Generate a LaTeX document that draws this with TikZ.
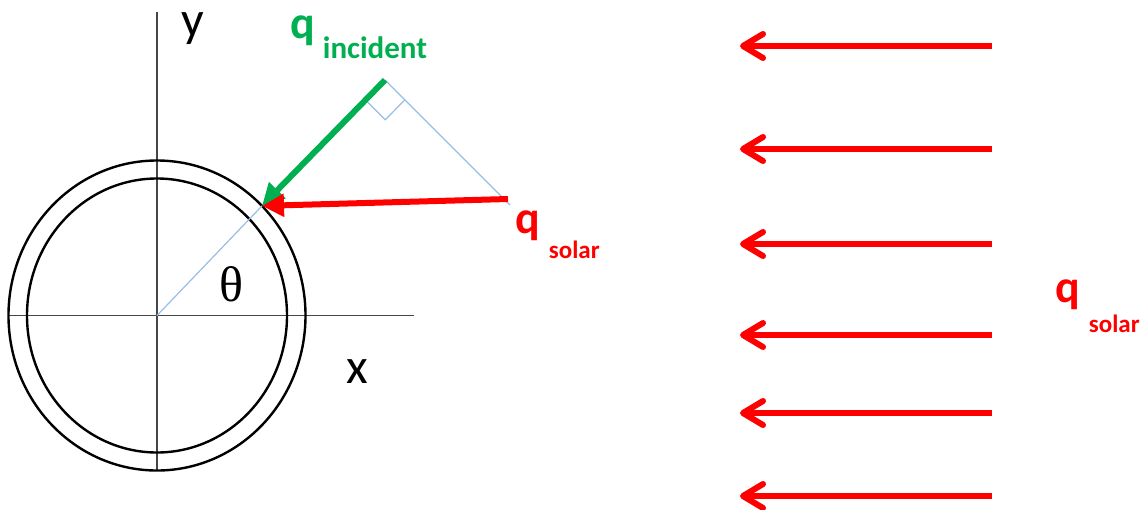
\documentclass[tikz,border=0pt]{standalone}
\usepackage{fontspec}
\usepackage{tikz}
\usetikzlibrary{arrows.meta,positioning,calc}
\newfontfamily\carlito{Carlito}
\newfontfamily\serifgr{Liberation Serif}
\definecolor{suncol}{RGB}{255,0,0}
\definecolor{inccol}{RGB}{0,176,80}
\definecolor{guidecol}{RGB}{150,190,230}
\definecolor{axiscol}{RGB}{70,70,70}

\begin{document}
\begin{tikzpicture}[x=0.5pt,y=-0.5pt,
  axis/.style={axiscol,line width=0.8pt},
  ring/.style={black,line width=1.2pt},
  guide/.style={guidecol,line width=0.6pt},
  fluxarrow/.style={line width=3pt,-{Triangle[length=11pt,width=11pt]}},
  sunray/.style={suncol,line width=3pt,-{Straight Barb[round,length=10pt,width=12pt]}},
  lbl/.style={inner sep=0pt,anchor=base west},
  axlbl/.style={lbl,font=\carlito\fontsize{25}{25}\selectfont},
  qbig/.style={lbl,font=\carlito\bfseries\fontsize{23}{23}\selectfont},
  qsub/.style={lbl,font=\carlito\bfseries\fontsize{15.5}{16}\selectfont},
  qsmall/.style={lbl,font=\carlito\bfseries\fontsize{12.5}{13}\selectfont}]
  \useasboundingbox (0,0) rectangle (1144,509);

  % pipe cross section and axes
  \coordinate (O) at (157,315.5);
  \coordinate (ytop) at (157,12);
  \coordinate (ybot) at (157,470);
  \coordinate (xleft) at (9,315.5);
  \coordinate (xright) at (414,315.5);
  \draw[axis] (ytop) -- (ybot);
  \draw[axis] (xleft) -- (xright);
  \draw[ring] (O) ellipse [x radius=148.5, y radius=155];
  \draw[ring] (O) ellipse [x radius=130, y radius=137];

  % incident point and flux arrows
  \coordinate (P) at ($(O)+(-45:148.5 and 155)$);
  \coordinate (G) at (385,80);
  \coordinate (S) at (508,199);
  \coordinate (Gend) at (510,205);
  \draw[guide] (O) -- (P);
  \draw[guide] (G) -- (Gend);
  \coordinate (ra1) at ($(G)!14pt!(P)$);
  \coordinate (ra2) at ($(G)!14pt!(Gend)$);
  \draw[guide] (ra1) -- ($(ra1)+(ra2)-(G)$) -- (ra2);
  \draw[fluxarrow,inccol] (G) -- (P);
  \draw[fluxarrow,suncol] (S) -- (P);

  % labels
  \node[axlbl] (ylab) at (181,36) {y};
  \node[axlbl] (xlab) at (346,383) {x};
  \node[inner sep=0pt,font=\serifgr\fontsize{25}{25}\selectfont] (theta) at (231,284) {θ};
  \node[qbig,inccol] (qinc) at (290,38) {q};
  \node[qsub,inccol] (incsub) at ([shift={(7,20)}]qinc.base east) {incident};
  \node[qbig,suncol] (qsol) at (515,233) {q};
  \node[qsmall,suncol] (solsub) at ([shift={(8,25)}]qsol.base east) {solar};

  % parallel solar rays
  \foreach \y in {46,149,244,335,413,496}
    \draw[sunray] (992,\y) -- (740,\y);
  \node[qbig,suncol] (qsun) at (1055,302) {q};
  \node[qsmall,suncol] (sunsub) at ([shift={(8,30)}]qsun.base east) {solar};
\end{tikzpicture}
\end{document}
